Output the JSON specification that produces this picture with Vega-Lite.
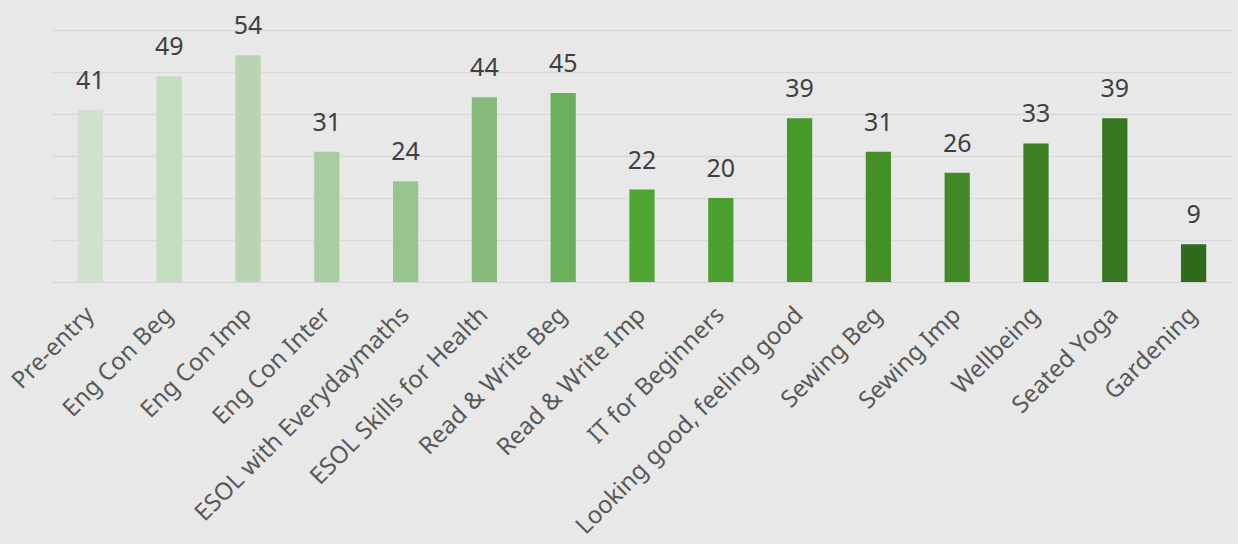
{
  "$schema": "https://vega.github.io/schema/vega-lite/v6.json",
  "autosize": {"type": "none"},
  "width": 1182,
  "height": 252,
  "padding": {"left": 51, "top": 30, "right": 5, "bottom": 262},
  "background": "#e8e8e8",
  "config": {"view": {"stroke": null}, "font": "Noto Sans"},
  "data": {"values": [
    {"course": "Pre-entry", "value": 41},
    {"course": "Eng Con Beg", "value": 49},
    {"course": "Eng Con Imp", "value": 54},
    {"course": "Eng Con Inter", "value": 31},
    {"course": "ESOL with Everydaymaths", "value": 24},
    {"course": "ESOL Skills for Health", "value": 44},
    {"course": "Read & Write Beg", "value": 45},
    {"course": "Read & Write Imp", "value": 22},
    {"course": "IT for Beginners", "value": 20},
    {"course": "Looking good, feeling good", "value": 39},
    {"course": "Sewing Beg", "value": 31},
    {"course": "Sewing Imp", "value": 26},
    {"course": "Wellbeing", "value": 33},
    {"course": "Seated Yoga", "value": 39},
    {"course": "Gardening", "value": 9}
  ]},
  "encoding": {
    "x": {
      "field": "course", "type": "nominal", "sort": null,
      "scale": {"paddingInner": 0.68, "paddingOuter": 0.34},
      "axis": {"title": null, "domain": false, "ticks": false, "labelAngle": -45, "labelAlign": "right", "labelBaseline": "middle", "labelFontSize": 24, "labelColor": "#595959", "labelPadding": 29, "labelFont": "Noto Sans", "labelLimit": 500}
    },
    "y": {
      "field": "value", "type": "quantitative",
      "scale": {"domain": [0, 60], "nice": false},
      "axis": {"title": null, "domain": false, "ticks": false, "labels": false, "values": [0, 10, 20, 30, 40, 50, 60], "grid": true, "gridColor": "#d9d9d9", "gridWidth": 1.5}
    }
  },
  "layer": [
    {
      "mark": {"type": "bar"},
      "encoding": {
        "color": {
          "field": "course", "type": "nominal", "legend": null,
          "scale": {
            "domain": ["Pre-entry", "Eng Con Beg", "Eng Con Imp", "Eng Con Inter", "ESOL with Everydaymaths", "ESOL Skills for Health", "Read & Write Beg", "Read & Write Imp", "IT for Beginners", "Looking good, feeling good", "Sewing Beg", "Sewing Imp", "Wellbeing", "Seated Yoga", "Gardening"],
            "range": ["#d0e2cd", "#c4dcc0", "#b8d4b2", "#aacca3", "#98c48f", "#86ba7a", "#6cb05c", "#4fa532", "#4aa02e", "#489a2b", "#458f28", "#418826", "#3c8023", "#367620", "#2f6a1c"]
          }
        }
      }
    },
    {
      "mark": {"type": "text", "dy": -21, "baseline": "alphabetic", "align": "center", "fontSize": 25, "color": "#404040", "font": "Noto Sans"},
      "encoding": {"text": {"field": "value", "type": "quantitative"}}
    }
  ]
}
